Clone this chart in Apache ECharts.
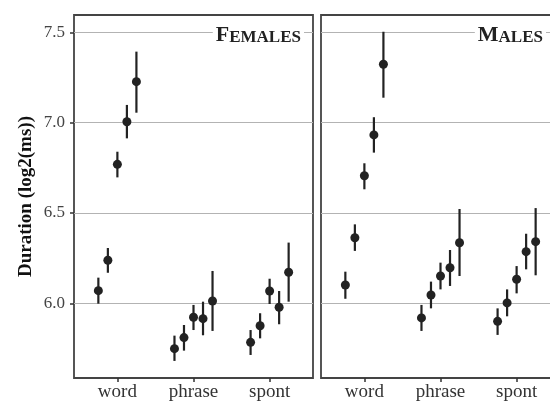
<!DOCTYPE html>
<html>
<head>
<meta charset="utf-8">
<script src="https://cdn.jsdelivr.net/npm/echarts@6/dist/echarts.min.js"></script>
<style>
  html, body { margin: 0; padding: 0; background: #ffffff; }
  #chart { width: 550px; height: 401px; }
</style>
</head>
<body>
<div id="chart"></div>
<script>
// Speech-style categories on the x axis, one panel per speaker sex
const categories = ['word', 'phrase', 'spont'];
const yTicks = [6.0, 6.5, 7.0, 7.5];

// Five conditions per category (word, phrase, spont), mean and interval bounds
const femaleMean = [6.070, 6.238, 6.769, 7.005, 7.227,
                    5.749, 5.810, 5.923, 5.915, 6.013,
                    5.784, 5.876, 6.068, 5.978, 6.172];
const femaleLow  = [5.998, 6.169, 6.697, 6.913, 7.055,
                    5.681, 5.738, 5.852, 5.823, 5.847,
                    5.714, 5.806, 5.996, 5.884, 6.009];
const femaleHigh = [6.142, 6.306, 6.839, 7.098, 7.393,
                    5.821, 5.880, 5.991, 6.009, 6.179,
                    5.852, 5.945, 6.136, 6.068, 6.336];

const maleMean = [6.101, 6.363, 6.706, 6.932, 7.323,
                  5.919, 6.046, 6.151, 6.197, 6.335,
                  5.900, 6.002, 6.133, 6.286, 6.341];
const maleLow  = [6.025, 6.290, 6.631, 6.834, 7.138,
                  5.847, 5.972, 6.077, 6.096, 6.151,
                  5.825, 5.928, 6.055, 6.188, 6.155];
const maleHigh = [6.175, 6.437, 6.775, 7.030, 7.503,
                  5.991, 6.120, 6.225, 6.295, 6.522,
                  5.972, 6.077, 6.206, 6.385, 6.527];

const GROUPS = 5;
const DODGE = 0.125;          // spacing between dodged conditions
const FONT = 'Liberation Serif';
const INK = '#222222';

function xPos(i) {
  const cat = Math.floor(i / GROUPS);
  const g = i % GROUPS;
  return cat + 1 + (g - (GROUPS - 1) / 2) * DODGE;
}

function pointData(mean) {
  return mean.map((m, i) => [xPos(i), m]);
}
function barData(low, high) {
  return low.map((l, i) => [xPos(i), l, high[i]]);
}

function errorBar(params, api) {
  const x = api.value(0);
  const a = api.coord([x, api.value(1)]);
  const b = api.coord([x, api.value(2)]);
  return {
    type: 'line',
    shape: { x1: a[0], y1: a[1], x2: b[0], y2: b[1] },
    style: { stroke: INK, lineWidth: 2.2 }
  };
}

const yMin = 5.5865, yMax = 7.5958;

function xAxis(idx) {
  return {
    type: 'value', gridIndex: idx, min: 0.43, max: 3.57,
    axisLine: { show: false },
    splitLine: { show: false },
    axisTick: { show: true, length: 4, customValues: [1, 2, 3],
                lineStyle: { color: '#333', width: 1.5 } },
    axisLabel: { show: true, customValues: [1, 2, 3], margin: 5,
                 formatter: v => categories[Math.round(v) - 1],
                 fontFamily: FONT, fontSize: 19, color: '#333' }
  };
}
function yAxis(idx, labels) {
  return {
    type: 'value', gridIndex: idx, min: yMin, max: yMax,
    axisLine: { show: false },
    splitLine: { show: true, lineStyle: { color: '#b3b3b3', width: 1 } },
    axisTick: { show: labels, length: 4, customValues: yTicks,
                lineStyle: { color: '#333', width: 1.5 } },
    axisLabel: { show: labels, customValues: yTicks, margin: 9,
                 formatter: v => v.toFixed(1),
                 fontFamily: FONT, fontSize: 17, color: '#444' },
    name: labels ? 'Duration (log2(ms))' : '',
    nameLocation: 'middle', nameGap: 38,
    nameTextStyle: { fontFamily: FONT, fontSize: 19, fontWeight: 'bold', color: '#111' }
  };
}

function panelTitle(first, rest, right) {
  return {
    text: '{a|' + first + '}{b|' + rest + '}',
    right: right, top: 24,
    padding: [0, 3, 0, 3],
    backgroundColor: '#ffffff',
    textStyle: {
      rich: {
        a: { fontFamily: FONT, fontWeight: 'bold', fontSize: 22, color: '#222', verticalAlign: 'bottom' },
        b: { fontFamily: FONT, fontWeight: 'bold', fontSize: 17, color: '#222', verticalAlign: 'bottom' }
      }
    }
  };
}

const chart = echarts.init(document.getElementById('chart'), null, { renderer: 'canvas' });
chart.setOption({
  animation: false,
  backgroundColor: '#ffffff',
  title: [
    panelTitle('F', 'EMALES', 246),
    panelTitle('M', 'ALES', 4)
  ],
  grid: [
    { left: 74, top: 15, width: 239, height: 363, show: true, containLabel: false,
      outerBoundsMode: 'none',
      borderColor: '#444', borderWidth: 1.8, backgroundColor: 'transparent' },
    { left: 321, top: 15, width: 239, height: 363, show: true, containLabel: false,
      outerBoundsMode: 'none',
      borderColor: '#444', borderWidth: 1.8, backgroundColor: 'transparent' }
  ],
  xAxis: [xAxis(0), xAxis(1)],
  yAxis: [yAxis(0, true), yAxis(1, false)],
  series: [
    { type: 'custom', xAxisIndex: 0, yAxisIndex: 0, renderItem: errorBar,
      encode: { x: 0, y: [1, 2] }, data: barData(femaleLow, femaleHigh), z: 3 },
    { type: 'scatter', xAxisIndex: 0, yAxisIndex: 0, symbolSize: 9,
      itemStyle: { color: INK, opacity: 1 }, data: pointData(femaleMean), z: 4 },
    { type: 'custom', xAxisIndex: 1, yAxisIndex: 1, renderItem: errorBar,
      encode: { x: 0, y: [1, 2] }, data: barData(maleLow, maleHigh), z: 3 },
    { type: 'scatter', xAxisIndex: 1, yAxisIndex: 1, symbolSize: 9,
      itemStyle: { color: INK, opacity: 1 }, data: pointData(maleMean), z: 4 }
  ]
});
</script>
</body>
</html>
